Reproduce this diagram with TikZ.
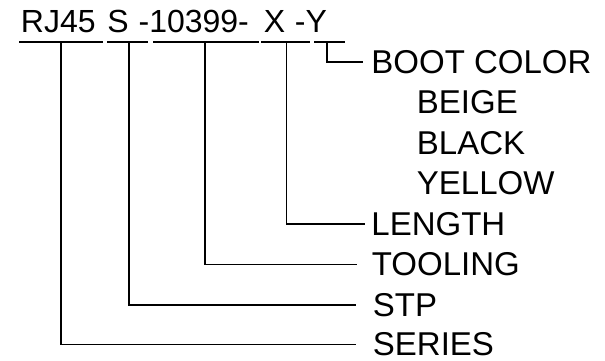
\documentclass[tikz,border=0pt]{standalone}
\usepackage{fontspec}
\setmainfont{Liberation Sans}

\begin{document}
\begin{tikzpicture}[
    x=1pt, y=-1pt,
    line width=1.8pt,
    part/.style={anchor=base west, inner sep=0pt, font=\fontsize{32}{38}\selectfont},
    field/.style={anchor=west, inner sep=0pt, font=\fontsize{33}{38}\selectfont}
]
\useasboundingbox (0,0) rectangle (605,361);

% part number
\node[part] (pSeries) at (20,33) {RJ45};
\node[part] (pStp)    at (106.5,33) {S};
\node[part] (pTool)   at (137.7,33) {-10399-};
\node[part] (pLen)    at (263,33) {X};
\node[part] (pBoot)   at (294,33) {-Y};

\draw (19,42) -- (103,42);
\draw (107,42) -- (148,42);
\draw (153,42) -- (259,42);
\draw (261,42) -- (310,42);
\draw (314,42) -- (345,42);

\coordinate (uSeries) at (61,42);
\coordinate (uStp)    at (129,42);
\coordinate (uTool)   at (205,42);
\coordinate (uLen)    at (286.5,42);
\coordinate (uBoot)   at (327,42);

% fields
\node[field] (boot)    at (370.5,62)  {BOOT COLOR};
\node[field] (beige)   at (416,102.5) {BEIGE};
\node[field] (black)   at (416,143)   {BLACK};
\node[field] (yellow)  at (416,183.5) {YELLOW};
\node[field] (length)  at (370.5,224) {LENGTH};
\node[field] (tooling) at (371,264.5) {TOOLING};
\node[field] (stp)     at (372,305)   {STP};
\node[field] (series)  at (372,344.5) {SERIES};

\draw[shorten >=7.5pt] (uBoot)   |- (boot.west);
\draw[shorten >=5.5pt] (uLen)    |- (length.west);
\draw[shorten >=14pt]  (uTool)   |- (tooling.west);
\draw[shorten >=16pt]  (uStp)    |- (stp.west);
\draw[shorten >=16pt]  (uSeries) |- (series.west);
\end{tikzpicture}
\end{document}
